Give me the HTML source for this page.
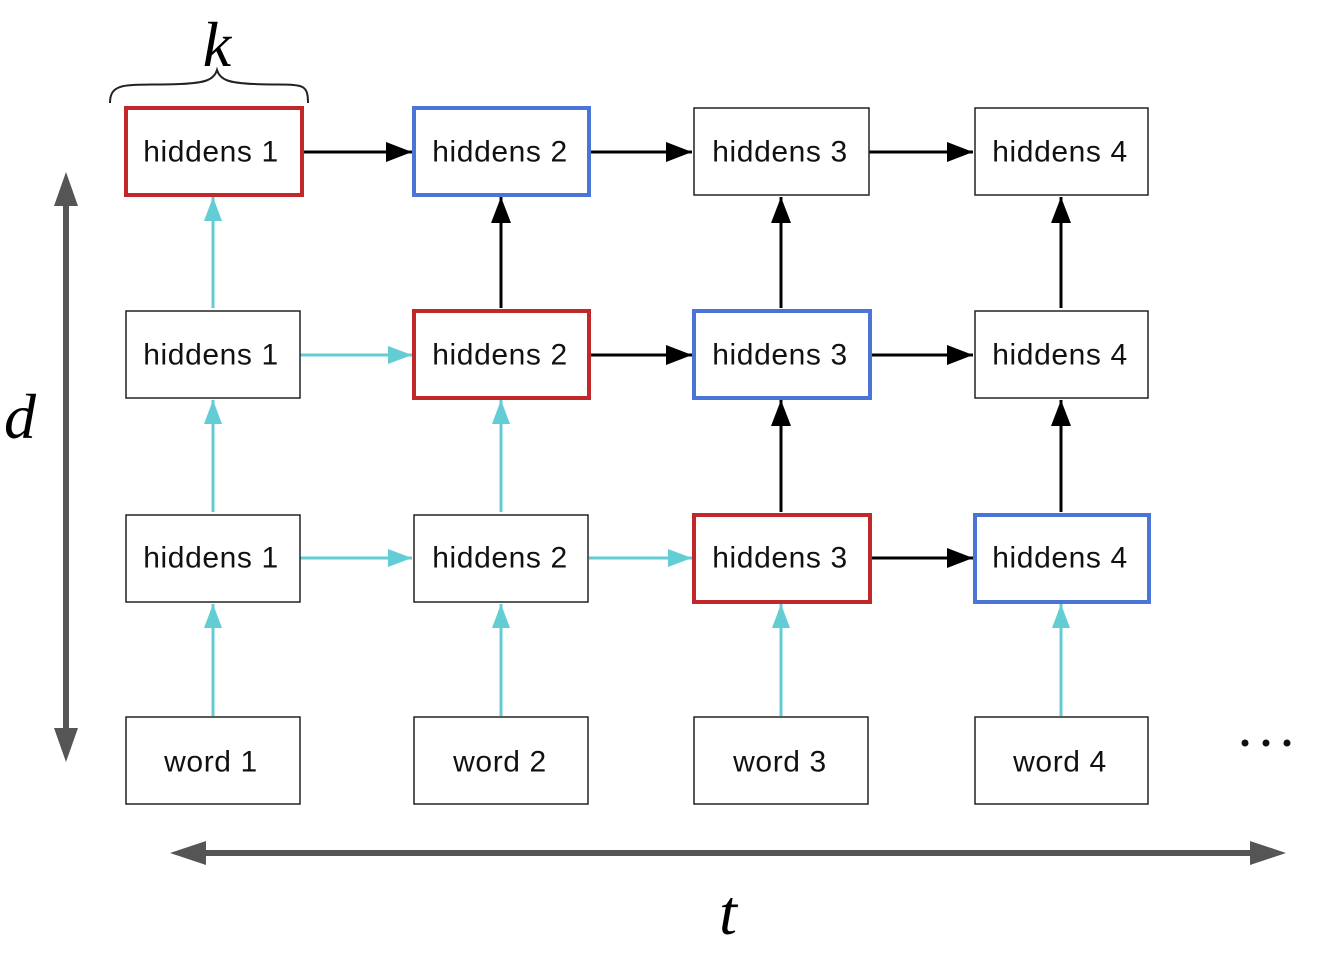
<!DOCTYPE html>
<html><head><style>body{margin:0;background:#fff}</style></head><body>
<svg width="1324" height="960" xmlns="http://www.w3.org/2000/svg" font-family="Liberation Sans, sans-serif">
<defs>
<marker id="b" markerWidth="26" markerHeight="20" refX="10" refY="5" orient="auto" markerUnits="userSpaceOnUse" viewBox="0 0 10 10" preserveAspectRatio="none"><path d="M0,0 L10,5 L0,10z" fill="#000"/></marker>
<marker id="c" markerWidth="24" markerHeight="18" refX="10" refY="5" orient="auto" markerUnits="userSpaceOnUse" viewBox="0 0 10 10" preserveAspectRatio="none"><path d="M0,0 L10,5 L0,10z" fill="#62cdd4"/></marker>
</defs>
<g stroke-width="3">
<g stroke="#000" marker-end="url(#b)">
<line x1="302" y1="152" x2="412" y2="152"/>
<line x1="590" y1="152" x2="692" y2="152"/>
<line x1="869" y1="152" x2="973" y2="152"/>
<line x1="590" y1="355" x2="692" y2="355"/>
<line x1="870" y1="355" x2="973" y2="355"/>
<line x1="870" y1="558" x2="973" y2="558"/>
<line x1="501" y1="308" x2="501" y2="197"/>
<line x1="781" y1="308" x2="781" y2="197"/>
<line x1="1061" y1="308" x2="1061" y2="197"/>
<line x1="781" y1="512" x2="781" y2="400"/>
<line x1="1061" y1="512" x2="1061" y2="400"/>
</g>
<g stroke="#62cdd4" marker-end="url(#c)">
<line x1="300" y1="355" x2="412" y2="355"/>
<line x1="300" y1="558" x2="412" y2="558"/>
<line x1="589" y1="558" x2="692" y2="558"/>
<line x1="213" y1="308" x2="213" y2="197"/>
<line x1="213" y1="512" x2="213" y2="400"/>
<line x1="501" y1="512" x2="501" y2="400"/>
<line x1="213" y1="716" x2="213" y2="604"/>
<line x1="501" y1="716" x2="501" y2="604"/>
<line x1="781" y1="716" x2="781" y2="604"/>
<line x1="1061" y1="716" x2="1061" y2="604"/>
</g>
</g>
<style>.p{fill:#fff;stroke:#222;stroke-width:1.5}.r{fill:#fff;stroke:#c0282a;stroke-width:4}.u{fill:#fff;stroke:#4a74d6;stroke-width:4}text.l{font-size:30px;letter-spacing:0.6px;text-anchor:middle;dominant-baseline:central;fill:#111}</style>
<rect class="r" x="126" y="108" width="176" height="87"/><text class="l" x="211" y="152">hiddens 1</text>
<rect class="u" x="414" y="108" width="175" height="87"/><text class="l" x="500" y="152">hiddens 2</text>
<rect class="p" x="694" y="108" width="175" height="87"/><text class="l" x="780" y="152">hiddens 3</text>
<rect class="p" x="975" y="108" width="173" height="87"/><text class="l" x="1060" y="152">hiddens 4</text>

<rect class="p" x="126" y="311" width="174" height="87"/><text class="l" x="211" y="355">hiddens 1</text>
<rect class="r" x="414" y="311" width="175" height="87"/><text class="l" x="500" y="355">hiddens 2</text>
<rect class="u" x="694" y="311" width="176" height="87"/><text class="l" x="780" y="355">hiddens 3</text>
<rect class="p" x="975" y="311" width="173" height="87"/><text class="l" x="1060" y="355">hiddens 4</text>

<rect class="p" x="126" y="515" width="174" height="87"/><text class="l" x="211" y="558">hiddens 1</text>
<rect class="p" x="414" y="515" width="174" height="87"/><text class="l" x="500" y="558">hiddens 2</text>
<rect class="r" x="694" y="515" width="176" height="87"/><text class="l" x="780" y="558">hiddens 3</text>
<rect class="u" x="975" y="515" width="174" height="87"/><text class="l" x="1060" y="558">hiddens 4</text>

<rect class="p" x="126" y="717" width="174" height="87"/><text class="l" x="211" y="762">word 1</text>
<rect class="p" x="414" y="717" width="174" height="87"/><text class="l" x="500" y="762">word 2</text>
<rect class="p" x="694" y="717" width="174" height="87"/><text class="l" x="780" y="762">word 3</text>
<rect class="p" x="975" y="717" width="173" height="87"/><text class="l" x="1060" y="762">word 4</text>

<line x1="66" y1="200" x2="66" y2="732" stroke="#555" stroke-width="6"/>
<path d="M66,172 L54,206 L78,206z M66,762 L54,728 L78,728z" fill="#555"/>
<line x1="198" y1="853" x2="1258" y2="853" stroke="#555" stroke-width="6"/>
<path d="M170,853 L206,841 L206,865z M1286,853 L1250,841 L1250,865z" fill="#555"/>

<path d="M110,103 C110,80 130,86 180,84 C205,83 214,80 217,70 C220,80 229,83 254,84 C300,86 308,80 308,103" fill="none" stroke="#222" stroke-width="2"/>
<text x="217" y="66" font-family="Liberation Serif, serif" font-style="italic" font-size="64" text-anchor="middle">k</text>
<text x="20" y="438" font-family="Liberation Serif, serif" font-style="italic" font-size="64" text-anchor="middle">d</text>
<text x="728" y="934" font-family="Liberation Serif, serif" font-style="italic" font-size="64" text-anchor="middle">t</text>
<g fill="#111"><circle cx="1245" cy="743" r="3.5"/><circle cx="1266" cy="743" r="3.5"/><circle cx="1287" cy="743" r="3.5"/></g>
</svg>
</body></html>
